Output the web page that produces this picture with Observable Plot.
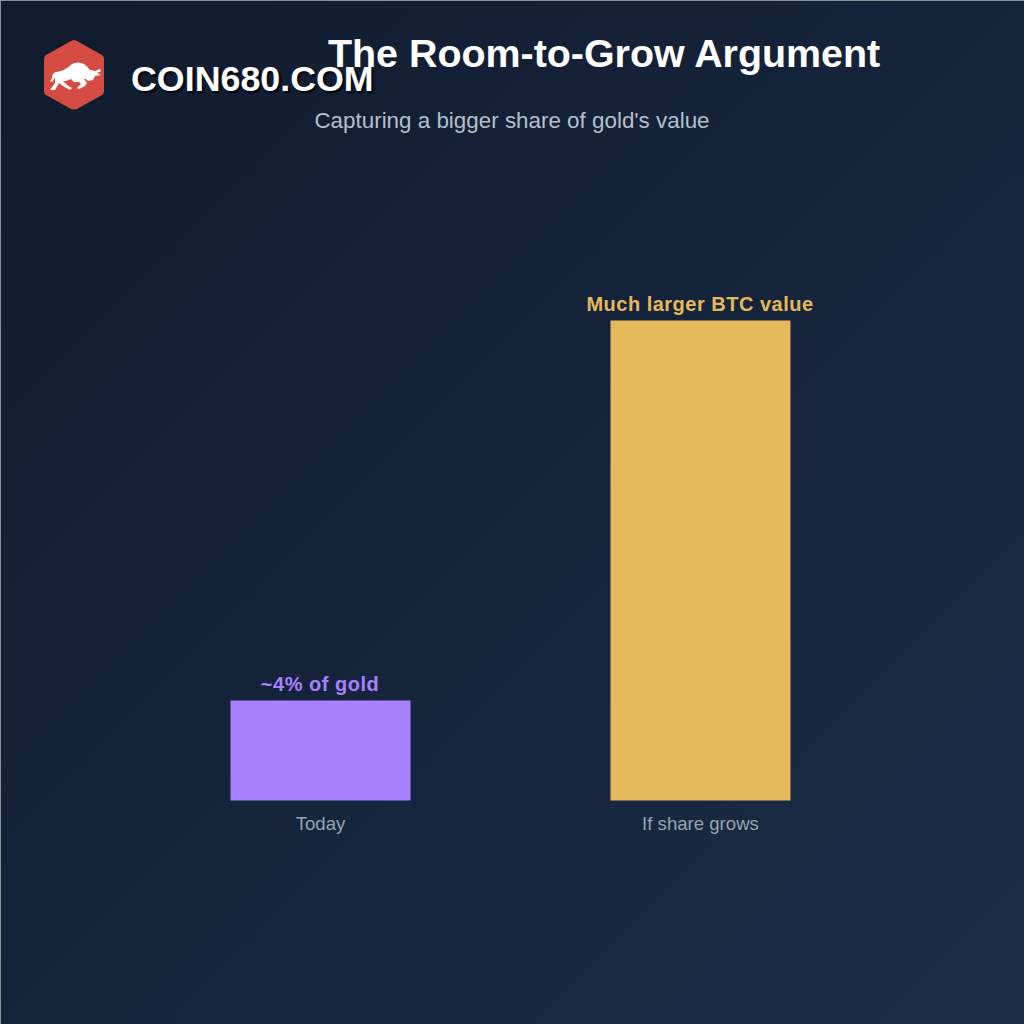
<!DOCTYPE html>
<html>
<head>
<meta charset="utf-8">
<script src="https://cdn.jsdelivr.net/npm/d3@7"></script>
<script src="https://cdn.jsdelivr.net/npm/@observablehq/plot@0.6"></script>
<style>
html,body{margin:0;padding:0;width:1024px;height:1024px;overflow:hidden}
body{position:relative;background:linear-gradient(135deg,#111b2d 0%,#15233a 45%,#1c2d48 100%);font-family:"Liberation Sans",Arial,sans-serif}
#frame{position:absolute;inset:0;border:1px solid #8a8f98;border-right:none;border-bottom:none;box-sizing:border-box;pointer-events:none}
#chart{position:absolute;left:0;top:0}
.t{position:absolute;white-space:nowrap;margin:0}
#title{left:328px;top:31px;font-size:39.4px;font-weight:700;color:#fff;line-height:44px}
#subtitle{left:0;width:1024px;text-align:center;top:107px;font-size:22.4px;color:#b4c0cf;line-height:28px}
#brand{left:131px;top:59px;font-size:35.8px;font-weight:700;color:#fff;line-height:40px;text-shadow:2px 2px 2px rgba(0,0,0,.8)}
#logo{position:absolute;left:43px;top:39px}
[aria-label="text"] text{letter-spacing:.5px}
</style>
</head>
<body>
<div id="chart"></div>
<svg id="logo" width="62" height="72" viewBox="0 0 62 72">
<path d="M31 1 Q32 1 34 2 L59 16 Q61 17 61 20 L61 52 Q61 55 59 56 L34 70 Q31 71 28 70 L3 56 Q1 55 1 52 L1 20 Q1 17 3 16 L28 2 Q30 1 31 1Z" fill="#d44c42"/>
<path d="M7 51 L12 44 L12 38 L10 42 L7 43 L9 39 Q9 34 13 33 Q22 32 29 25 Q35 22 41 25 Q45 28 47 31 L52 32 L57 30 L58 32 L54 34 L58 36 L52 37 L50 41 L45 42 L43 40 L41 40 L44 44 L42 47 L36 50 L34 49 L38 45 L36 43 L31 43 L28 40 L23 42 L20 42 L24 46 L29 49 L27 51 L20 47 L16 44 L12 51 Z" fill="#fff"/>
</svg>
<div class="t" id="brand">COIN680.COM</div>
<div class="t" id="title">The Room-to-Grow Argument</div>
<div class="t" id="subtitle">Capturing a bigger share of gold's value</div>
<div id="frame"></div>
<script>
const categories = ["Today", "If share grows"];
const values = [4, 19.2];
const labels = ["~4% of gold", "Much larger BTC value"];
const colors = ["#a881ff", "#e5b95c"];

const rows = categories.map((c, i) => ({category: c, value: values[i], label: labels[i], color: colors[i]}));

const svg = Plot.plot({
  width: 1024,
  height: 1024,
  style: {background: "transparent", fontFamily: "'Liberation Sans', Arial, sans-serif", overflow: "visible"},
  x: {domain: categories, range: [130.5, 890.5], paddingInner: 0.5263, paddingOuter: 0.2632, align: 0.5, round: false, label: null},
  y: {domain: [0, 19.2], range: [800.5, 320.5], axis: null},
  marks: [
    Plot.axisX({
      anchor: "bottom", tickSize: 0, tickPadding: 16, fontSize: 18.6, color: "#98a4b3", label: null,
      marginBottom: 224, dx: -0.5
    }),
    Plot.barY(rows, {x: "category", y: "value", fill: "color"}),
    Plot.text(rows, {x: "category", y: "value", text: "label", fill: "color", dy: -16, dx: -1, fontSize: 20, fontWeight: 700})
  ]
});
document.getElementById("chart").appendChild(svg);
</script>
</body>
</html>
